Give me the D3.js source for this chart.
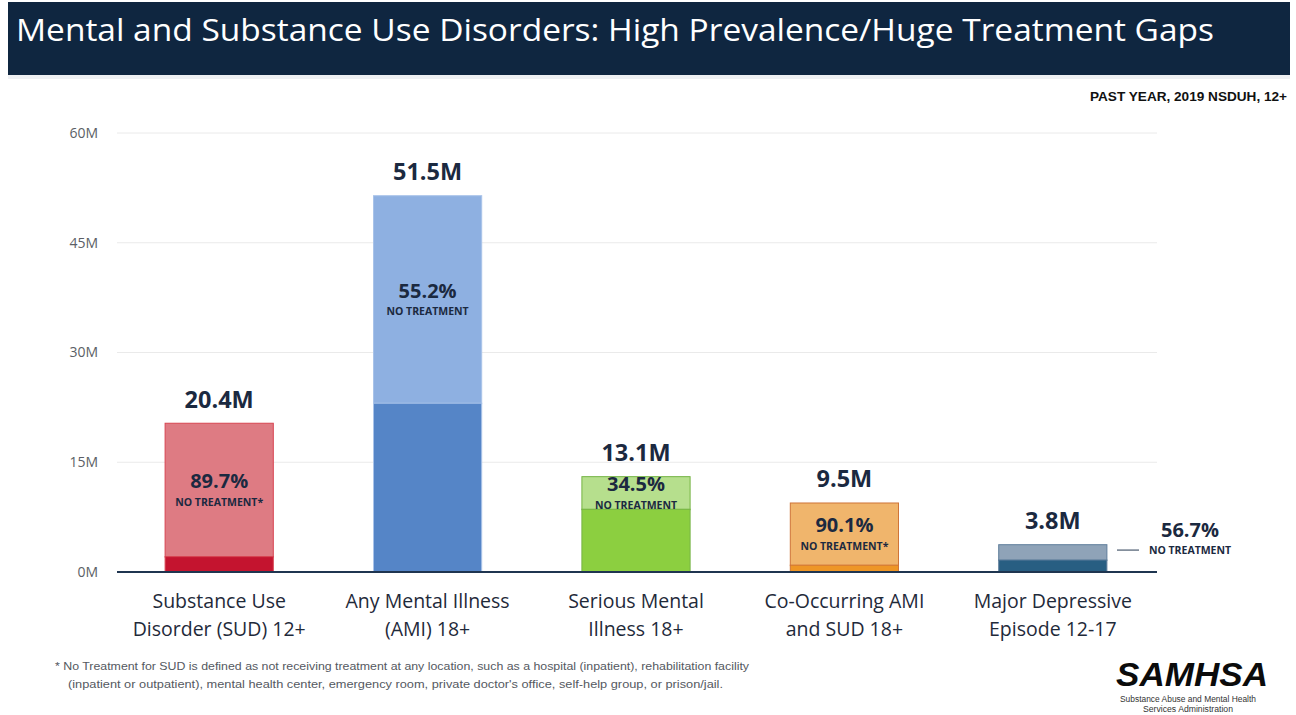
<!DOCTYPE html>
<html>
<head>
<meta charset="utf-8">
<script src="https://cdn.jsdelivr.net/npm/d3@7"></script>
<style>
  html, body { margin: 0; padding: 0; background: #fff; }
  svg { display: block; }
</style>
</head>
<body>
<svg id="chart" width="1296" height="715"></svg>
<script>
// Past-year prevalence (millions) and share receiving no treatment, 2019 NSDUH
const categories = ["SUD", "AMI", "SMI", "COAMI", "MDE"];
const categoryLines = [
  ["Substance Use", "Disorder (SUD) 12+"],
  ["Any Mental Illness", "(AMI) 18+"],
  ["Serious Mental", "Illness 18+"],
  ["Co-Occurring AMI", "and SUD 18+"],
  ["Major Depressive", "Episode 12-17"]
];
const totals = [20.4, 51.5, 13.1, 9.5, 3.8];
const noTreatmentPct = [89.7, 55.2, 34.5, 90.1, 56.7];
const noTreatmentNotes = ["NO TREATMENT*", "NO TREATMENT", "NO TREATMENT", "NO TREATMENT*", "NO TREATMENT"];
const yTicks = [0, 15, 30, 45, 60];

const palette = [
  { light: "#de7b83", dark: "#c4142f", stroke: "#d84552" },
  { light: "#8eb0e1", dark: "#5585c7", stroke: "#a9c3e9" },
  { light: "#b6df8d", dark: "#8ccf40", stroke: "#76b345" },
  { light: "#f0b56c", dark: "#ee9626", stroke: "#cf7438" },
  { light: "#8fa3b8", dark: "#285e82", stroke: "#5f7e9b" }
];

const svg = d3.select("#chart");
const navy = "#1b2940";

// Title banner
svg.append("rect").attr("x", 8).attr("y", 2).attr("width", 1282).attr("height", 73).attr("fill", "#0f2640");
svg.append("rect").attr("x", 8).attr("y", 75).attr("width", 1282).attr("height", 4).attr("fill", "#eef0f3");
svg.append("text")
  .attr("x", 16).attr("y", 41)
  .attr("fill", "#ffffff")
  .attr("font-family", "'Open Sans', 'Noto Sans', sans-serif")
  .attr("font-size", 31)
  .attr("textLength", 1198)
  .attr("lengthAdjust", "spacingAndGlyphs")
  .text("Mental and Substance Use Disorders: High Prevalence/Huge Treatment Gaps");

svg.append("text")
  .attr("x", 1287).attr("y", 101)
  .attr("text-anchor", "end")
  .attr("fill", "#111")
  .attr("font-family", "'Liberation Sans Narrow', 'Liberation Sans', Arial, sans-serif")
  .attr("font-weight", "bold")
  .attr("font-size", 12)
  .attr("textLength", 197)
  .attr("lengthAdjust", "spacingAndGlyphs")
  .text("PAST YEAR, 2019 NSDUH, 12+");

// Scales
const x = d3.scaleBand().domain(categories).range([115, 1157]).paddingInner(0.476).paddingOuter(0.238);
const y = d3.scaleLinear().domain([0, 60]).range([572, 133]);

// Grid + y labels
const yAxis = d3.axisLeft(y).tickValues(yTicks).tickFormat(d => d + "M").tickSize(0).tickPadding(19);
const gy = svg.append("g").attr("transform", "translate(117,0)").call(yAxis);
gy.select(".domain").remove();
gy.selectAll("text")
  .attr("fill", "#5b5f66")
  .attr("font-family", "'Open Sans', 'Noto Sans', sans-serif")
  .attr("font-size", 14);

svg.append("g").selectAll("line").data(yTicks.filter(t => t > 0)).join("line")
  .attr("x1", 117).attr("x2", 1157)
  .attr("y1", d => y(d)).attr("y2", d => y(d))
  .attr("stroke", "#eaeaea").attr("stroke-width", 1);

const rows = categories.map((c, i) => ({
  c, i,
  total: totals[i],
  pct: noTreatmentPct[i],
  treated: totals[i] * (1 - noTreatmentPct[i] / 100)
}));

// Bars: untreated (light) stacked above treated (dark)
const bars = svg.append("g").selectAll("g").data(rows).join("g");
bars.append("rect")
  .attr("x", d => x(d.c) + 0.5).attr("width", x.bandwidth() - 1)
  .attr("y", d => y(d.total) + 0.5)
  .attr("height", d => y(d.treated) - y(d.total))
  .attr("fill", d => palette[d.i].light)
  .attr("stroke", d => palette[d.i].stroke).attr("stroke-width", 1);
bars.append("rect")
  .attr("x", d => x(d.c) + 0.5).attr("width", x.bandwidth() - 1)
  .attr("y", d => y(d.treated))
  .attr("height", d => y(0) - y(d.treated))
  .attr("fill", d => palette[d.i].dark)
  .attr("stroke", d => palette[d.i].stroke).attr("stroke-width", 1);

// Baseline
svg.append("line").attr("x1", 117).attr("x2", 1157).attr("y1", y(0)).attr("y2", y(0))
  .attr("stroke", "#1f3550").attr("stroke-width", 2);

// Totals above bars
bars.append("text")
  .attr("x", d => x(d.c) + x.bandwidth() / 2)
  .attr("y", d => y(d.total) - 15)
  .attr("text-anchor", "middle")
  .attr("fill", navy)
  .attr("font-family", "'Open Sans', 'Noto Sans', sans-serif")
  .attr("font-weight", "bold")
  .attr("font-size", 23.5)
  .text(d => d3.format(".1f")(d.total) + "M");

// Untreated share labels
bars.each(function(d) {
  const g = d3.select(this);
  const inside = d.i !== 4;
  const cx = inside ? x(d.c) + x.bandwidth() / 2 : 1190;
  const mid = (y(d.total) + y(d.treated)) / 2 - (inside ? 0 : 14);
  g.append("text")
    .attr("x", cx).attr("y", mid - 1.5)
    .attr("text-anchor", "middle")
    .attr("fill", navy)
    .attr("font-family", "'Open Sans', 'Noto Sans', sans-serif")
    .attr("font-weight", "bold")
    .attr("font-size", 20)
    .text(d3.format(".1f")(d.pct) + "%");
  g.append("text")
    .attr("x", cx).attr("y", mid + 16)
    .attr("text-anchor", "middle")
    .attr("fill", navy)
    .attr("font-family", "'Open Sans', 'Noto Sans', sans-serif")
    .attr("font-weight", "bold")
    .attr("font-size", 10.5)
    .text(noTreatmentNotes[d.i]);
  if (!inside) {
    g.append("line")
      .attr("x1", 1117).attr("x2", 1139)
      .attr("y1", mid + 12).attr("y2", mid + 12)
      .attr("stroke", "#4a5a6e").attr("stroke-width", 1.2);
  }
});

// Category labels
const cat = svg.append("g").selectAll("text").data(rows).join("text")
  .attr("x", d => x(d.c) + x.bandwidth() / 2)
  .attr("y", 608)
  .attr("text-anchor", "middle")
  .attr("fill", "#1f2a3a")
  .attr("font-family", "'Open Sans', 'Noto Sans', sans-serif")
  .attr("font-size", 19.5);
cat.selectAll("tspan").data(d => categoryLines[d.i].map(t => ({ t, cx: x(d.c) + x.bandwidth() / 2 }))).join("tspan")
  .attr("x", d => d.cx)
  .attr("dy", (d, k) => k === 0 ? 0 : 28)
  .text(d => d.t);

// Footnote
const foot = svg.append("g")
  .attr("font-family", "'Liberation Sans Narrow', 'Liberation Sans', Arial, sans-serif")
  .attr("font-size", 11.5)
  .attr("fill", "#55595f");
foot.append("text").attr("x", 55).attr("y", 670)
  .attr("textLength", 694).attr("lengthAdjust", "spacingAndGlyphs")
  .text("* No Treatment for SUD is defined as not receiving treatment at any location, such as a hospital (inpatient), rehabilitation facility");
foot.append("text").attr("x", 68).attr("y", 688)
  .attr("textLength", 655).attr("lengthAdjust", "spacingAndGlyphs")
  .text("(inpatient or outpatient), mental health center, emergency room, private doctor's office, self-help group, or prison/jail.");

// Agency mark
svg.append("text")
  .attr("x", 1192).attr("y", 686)
  .attr("text-anchor", "middle")
  .attr("fill", "#0b0b0b")
  .attr("font-family", "'Liberation Sans', Arial, sans-serif")
  .attr("font-weight", "bold")
  .attr("font-style", "italic")
  .attr("font-size", 34)
  .attr("textLength", 152)
  .attr("lengthAdjust", "spacingAndGlyphs")
  .text("SAMHSA");
svg.append("text").attr("x", 1188).attr("y", 702)
  .attr("text-anchor", "middle").attr("fill", "#333")
  .attr("font-family", "'Liberation Sans Narrow', 'Liberation Sans', Arial, sans-serif")
  .attr("font-size", 8.5).attr("textLength", 136).attr("lengthAdjust", "spacingAndGlyphs")
  .text("Substance Abuse and Mental Health");
svg.append("text").attr("x", 1188).attr("y", 712)
  .attr("text-anchor", "middle").attr("fill", "#333")
  .attr("font-family", "'Liberation Sans Narrow', 'Liberation Sans', Arial, sans-serif")
  .attr("font-size", 8.5).attr("textLength", 90).attr("lengthAdjust", "spacingAndGlyphs")
  .text("Services Administration");
</script>
</body>
</html>
